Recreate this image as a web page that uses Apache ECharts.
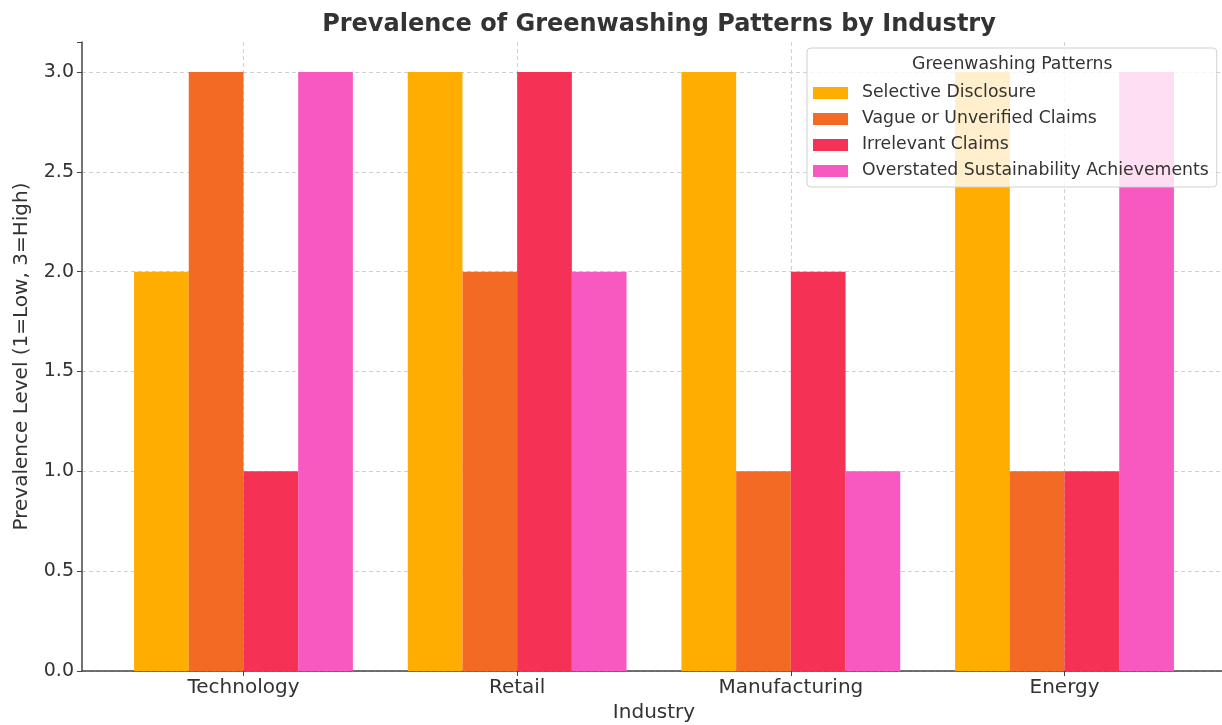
<!DOCTYPE html>
<html><head><meta charset="utf-8">
<script src="https://cdn.jsdelivr.net/npm/echarts@6/dist/echarts.min.js"></script>
<style>html,body{margin:0;padding:0;background:#fff}#c{width:1222px;height:725px}</style>
</head><body><div id="c"></div>
<script>
const industries = ['Technology', 'Retail', 'Manufacturing', 'Energy'];
const patterns = ['Selective Disclosure', 'Vague or Unverified Claims', 'Irrelevant Claims', 'Overstated Sustainability Achievements'];
const selectiveDisclosure = [2, 3, 3, 3];
const vagueClaims = [3, 2, 1, 1];
const irrelevantClaims = [1, 3, 2, 1];
const overstatedAchievements = [3, 2, 1, 3];
const yTicks = [0, 0.5, 1, 1.5, 2, 2.5, 3];
const colors = ['#FFAD00', '#F26A24', '#F53155', '#F859C0'];
const seriesValues = [selectiveDisclosure, vagueClaims, irrelevantClaims, overstatedAchievements];

const FONT = 'DejaVu Sans';
const chart = echarts.init(document.getElementById('c'), null, {renderer: 'canvas'});
chart.setOption({
  animation: false,
  textStyle: {fontFamily: FONT},
  title: {
    text: 'Prevalence of Greenwashing Patterns by Industry',
    left: 654, top: 8, textAlign: 'center',
    textStyle: {fontFamily: FONT, fontSize: 24, fontWeight: 'bold', color: '#333'}
  },
  grid: {left: 82, top: 42, width: 1144, bottom: 54, containLabel: false, outerBoundsMode: 'none'},
  legend: {
    orient: 'vertical', left: 807, top: 48,
    padding: [36, 8, 7, 6],
    itemWidth: 35, itemHeight: 12, itemGap: 8,
    backgroundColor: 'rgba(255,255,255,0.8)',
    borderColor: '#d0d0d0', borderWidth: 1, borderRadius: 4,
    icon: 'rect',
    textStyle: {fontFamily: FONT, fontSize: 17.3, lineHeight: 18, color: '#333', padding: [0, 0, 0, 9]},
    data: patterns
  },
  graphic: [{
    type: 'text', z: 100, left: 912, top: 56,
    style: {text: 'Greenwashing Patterns', font: '17.3px "DejaVu Sans"', fill: '#333'}
  }],
  xAxis: {
    type: 'value', min: -0.59, max: 3.59,
    name: 'Industry', nameLocation: 'middle', nameGap: 32,
    nameTextStyle: {fontFamily: FONT, fontSize: 20, color: '#333'},
    axisLine: {show: true, onZero: false, lineStyle: {color: '#444', width: 1.5}},
    axisTick: {show: true, length: 5, lineStyle: {color: '#444'}, customValues: [0, 1, 2, 3]},
    axisLabel: {fontFamily: FONT, fontSize: 20, color: '#333', margin: 7, customValues: [0, 1, 2, 3],
      formatter: v => industries[Math.round(v)] || ''},
    splitLine: {show: true, lineStyle: {color: '#d0d0d0', type: [4, 3], width: 1}}
  },
  yAxis: {
    type: 'value', min: 0, max: 3.15, interval: 0.5,
    name: 'Prevalence Level (1=Low, 3=High)', nameLocation: 'middle', nameGap: 50,
    nameTextStyle: {fontFamily: FONT, fontSize: 20, color: '#333'},
    axisLine: {show: true, onZero: false, lineStyle: {color: '#444', width: 1.5}},
    axisTick: {show: true, length: 5, lineStyle: {color: '#444'}},
    axisLabel: {fontFamily: FONT, fontSize: 19, color: '#333', margin: 8,
      formatter: v => (Math.abs(v * 2 - Math.round(v * 2)) < 1e-6 ? v.toFixed(1) : '')},
    splitLine: {show: true, showMaxLine: false, lineStyle: {color: '#d0d0d0', type: [4, 3], width: 1}}
  },
  series: patterns.map((p, i) => ({
    name: p, type: 'bar', barWidth: 54.7, barGap: '0%',
    itemStyle: {color: colors[i]},
    data: seriesValues[i].map((v, j) => [j, v])
  }))
});
</script></body></html>
